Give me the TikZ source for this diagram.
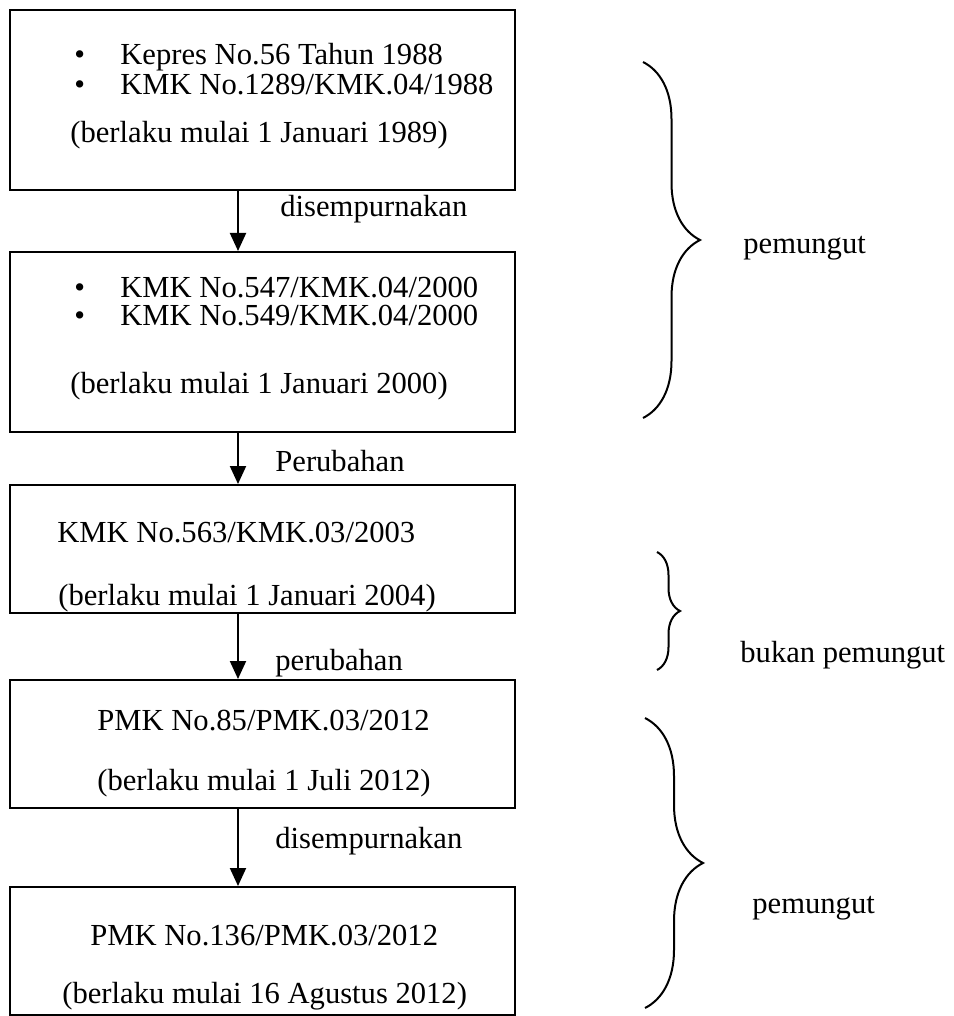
\documentclass[tikz,border=0pt]{standalone}
\usepackage{fontspec}
\setmainfont{Liberation Serif}
\usetikzlibrary{arrows.meta,decorations.pathreplacing}

\begin{document}
\begin{tikzpicture}[x=0.5pt, y=-0.5pt,
    box/.style={draw, line width=1pt, minimum width=252.5pt, inner sep=0pt},
    txt/.style={anchor=base west, inner sep=0pt, font=\fontsize{15.3pt}{18pt}\selectfont},
    link/.style={-{Triangle[length=9pt, width=8pt]}, line width=1pt},
    curly/.style={decorate, decoration={brace, amplitude=#1}, line width=1pt}]
  \useasboundingbox (0,0) rectangle (953,1016);

  % boxes
  \node[box, minimum height=90pt] (b1) at (262.5,100) {};
  \node[box, minimum height=90pt] (b2) at (262.5,342) {};
  \node[box, minimum height=64pt] (b3) at (262.5,549) {};
  \node[box, minimum height=64pt] (b4) at (262.5,744) {};
  \node[box, minimum height=64pt] (b5) at (262.5,951) {};

  % box texts
  \node[txt] (d1a) at (74,65)   {\textbullet};
  \node[txt] (t1a) at (120,65)  {Kepres No.56 Tahun 1988};
  \node[txt] (d1b) at (74,95)   {\textbullet};
  \node[txt] (t1b) at (120,95)  {KMK No.1289/KMK.04/1988};
  \node[txt] (t1c) at (70,143)  {(berlaku mulai 1 Januari 1989)};

  \node[txt] (d2a) at (74,297)  {\textbullet};
  \node[txt] (t2a) at (120,297) {KMK No.547/KMK.04/2000};
  \node[txt] (d2b) at (74,325)  {\textbullet};
  \node[txt] (t2b) at (120,325) {KMK No.549/KMK.04/2000};
  \node[txt] (t2c) at (70,393)  {(berlaku mulai 1 Januari 2000)};

  \node[txt] (t3a) at (57,542)  {KMK No.563/KMK.03/2003};
  \node[txt] (t3b) at (58,605)  {(berlaku mulai 1 Januari 2004)};

  \node[txt] (t4a) at (97,730)  {PMK No.85/PMK.03/2012};
  \node[txt] (t4b) at (97,790)  {(berlaku mulai 1 Juli 2012)};

  \node[txt] (t5a) at (90,945)  {PMK No.136/PMK.03/2012};
  \node[txt] (t5b) at (62,1003) {(berlaku mulai 16 Agustus 2012)};

  % arrows
  \draw[link] ([xshift=-12.25pt]b1.south) -- ([xshift=-12.25pt]b2.north);
  \draw[link] ([xshift=-12.25pt]b2.south) -- ([xshift=-12.25pt]b3.north);
  \draw[link] ([xshift=-12.25pt]b3.south) -- ([xshift=-12.25pt]b4.north);
  \draw[link] ([xshift=-12.25pt]b4.south) -- ([xshift=-12.25pt]b5.north);

  \node[txt] (l1) at (280,217) {disempurnakan};
  \node[txt] (l2) at (275,471) {Perubahan};
  \node[txt] (l3) at (275,670) {perubahan};
  \node[txt] (l4) at (275,848) {disempurnakan};

  % braces
  \coordinate (c1t) at (643,62);
  \coordinate (c1b) at (643,418);
  \coordinate (c2t) at (657,552);
  \coordinate (c2b) at (657,670);
  \coordinate (c3t) at (645,718);
  \coordinate (c3b) at (645,1008);
  \draw[curly=28.5pt] (c1t) -- (c1b);
  \draw[curly=11.5pt] (c2t) -- (c2b);
  \draw[curly=29pt]   (c3t) -- (c3b);

  \node[txt] (g1) at (743,253) {pemungut};
  \node[txt] (g2) at (740,662) {bukan pemungut};
  \node[txt] (g3) at (752,913) {pemungut};
\end{tikzpicture}
\end{document}
